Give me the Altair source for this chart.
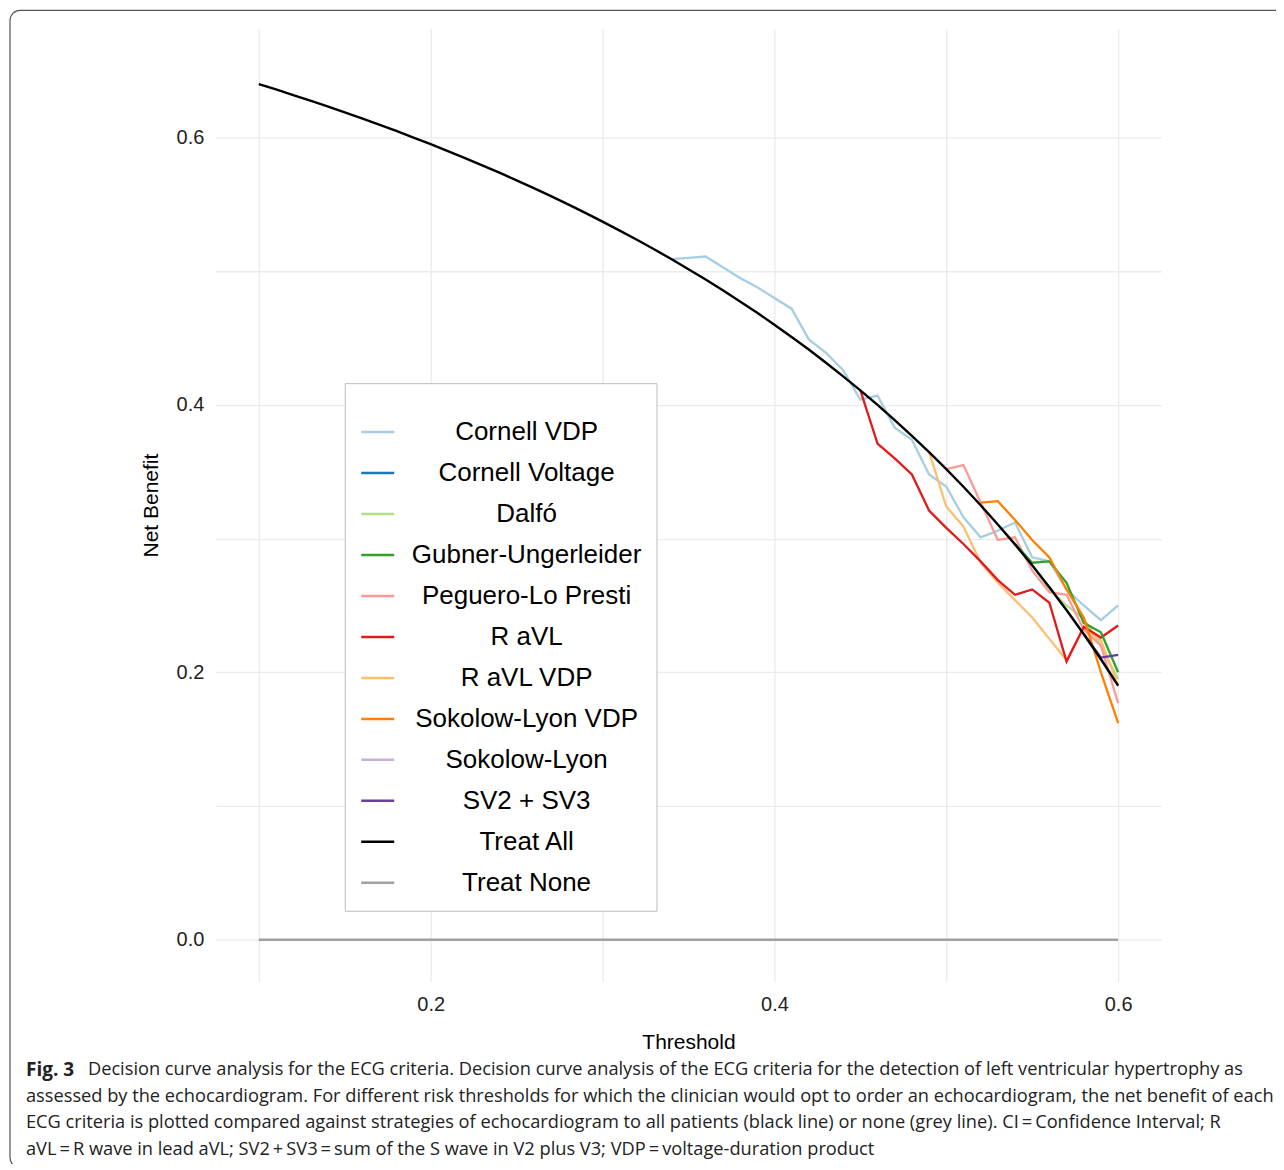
import altair as alt
import pandas as pd

# ---------------- data ----------------
thresholds = [round(0.10 + 0.01 * i, 2) for i in range(51)]

treat_all = [0.6400, 0.6360, 0.6318, 0.6276, 0.6233, 0.6188, 0.6143, 0.6096, 0.6049, 0.6000,
             0.5950, 0.5899, 0.5846, 0.5792, 0.5737, 0.5680, 0.5622, 0.5562, 0.5500, 0.5437,
             0.5371, 0.5304, 0.5235, 0.5164, 0.5091, 0.5015, 0.4938, 0.4857, 0.4774, 0.4689,
             0.4600, 0.4508, 0.4414, 0.4316, 0.4214, 0.4109, 0.4000, 0.3887, 0.3769, 0.3647,
             0.3520, 0.3388, 0.3250, 0.3106, 0.2957, 0.2800, 0.2636, 0.2465, 0.2286, 0.2098,
             0.1900]
treat_none = [0.0] * 51

# model curves: (first threshold, values at 0.01 steps)
cornell_vdp_start = 0.34
cornell_vdp = [0.509, 0.510, 0.511, 0.503, 0.495, 0.488, 0.480, 0.472, 0.449, 0.439,
               0.426, 0.404, 0.407, 0.383, 0.374, 0.348, 0.339, 0.316, 0.301, 0.306,
               0.312, 0.286, 0.283, 0.262, 0.250, 0.239, 0.250]
cornell_voltage_start = 0.56
cornell_voltage = [0.2636, 0.2465, 0.2286, 0.2098, 0.1900]
dalfo_start = 0.54
dalfo = [0.296, 0.280, 0.262, 0.250, 0.240, 0.220, 0.195]
gubner_start = 0.54
gubner = [0.296, 0.282, 0.283, 0.267, 0.237, 0.230, 0.200]
peguero_start = 0.50
peguero = [0.352, 0.355, 0.327, 0.299, 0.301, 0.276, 0.260, 0.258, 0.232, 0.220, 0.177]
r_avl_start = 0.45
r_avl = [0.411, 0.371, 0.360, 0.348, 0.321, 0.308, 0.296, 0.283, 0.269, 0.258,
         0.262, 0.252, 0.208, 0.234, 0.226, 0.235]
r_avl_vdp_start = 0.49
r_avl_vdp = [0.365, 0.324, 0.309, 0.282, 0.267, 0.254, 0.241, 0.225, 0.209, 0.233,
             0.224, 0.190]
sokolow_vdp_start = 0.52
sokolow_vdp = [0.327, 0.328, 0.314, 0.299, 0.286, 0.262, 0.241, 0.200, 0.162]
sokolow_start = 0.57
sokolow = [0.2465, 0.2286, 0.2098, 0.1900]
sv2sv3_start = 0.58
sv2sv3 = [0.229, 0.211, 0.213]

series_names = ["Cornell VDP", "Cornell Voltage", "Dalfó", "Gubner-Ungerleider",
                "Peguero-Lo Presti", "R aVL", "R aVL VDP", "Sokolow-Lyon VDP",
                "Sokolow-Lyon", "SV2 + SV3", "Treat All", "Treat None"]
series_colors = ["#a6cee3", "#1f78b4", "#b2df8a", "#33a02c", "#fb9a99", "#e31a1c",
                 "#fdbf6f", "#ff7f00", "#cab2d6", "#6a3d9a", "#000000", "#a0a0a0"]

caption_bold = "Fig. 3"
caption_lines = [
    "Decision curve analysis for the ECG criteria. Decision curve analysis of the ECG criteria for the detection of left ventricular hypertrophy as",
    "assessed by the echocardiogram. For different risk thresholds for which the clinician would opt to order an echocardiogram, the net benefit of each",
    "ECG criteria is plotted compared against strategies of echocardiogram to all patients (black line) or none (grey line). CI\u2009=\u2009Confidence Interval; R",
    "aVL\u2009=\u2009R wave in lead aVL; SV2\u2009+\u2009SV3\u2009=\u2009sum of the S wave in V2 plus V3; VDP\u2009=\u2009voltage-duration product",
]

# ---------------- build tables ----------------
def model_rows(name, start, vals):
    i0 = thresholds.index(start)
    return [{"threshold": thresholds[i0 + k], "nb": v, "model": name} for k, v in enumerate(vals)]

model_specs = [
    ("Cornell Voltage", cornell_voltage_start, cornell_voltage),
    ("Sokolow-Lyon", sokolow_start, sokolow),
    ("Dalfó", dalfo_start, dalfo),
    ("Cornell VDP", cornell_vdp_start, cornell_vdp),
    ("R aVL VDP", r_avl_vdp_start, r_avl_vdp),
    ("Peguero-Lo Presti", peguero_start, peguero),
    ("R aVL", r_avl_start, r_avl),
    ("Gubner-Ungerleider", gubner_start, gubner),
    ("Sokolow-Lyon VDP", sokolow_vdp_start, sokolow_vdp),
    ("SV2 + SV3", sv2sv3_start, sv2sv3),
]
rows = []
for n, s, v in model_specs:
    rows.extend(model_rows(n, s, v))
models_df = pd.DataFrame(rows)

ref_df = pd.DataFrame(
    [{"threshold": t, "nb": v, "model": "Treat None"} for t, v in zip(thresholds, treat_none)]
    + [{"threshold": t, "nb": v, "model": "Treat All"} for t, v in zip(thresholds, treat_all)]
)

W, H = 946, 954
AX_FONT = "Liberation Sans"

x_enc = alt.X("threshold:Q", title="Threshold",
              scale=alt.Scale(domain=[0.075, 0.625], nice=False, zero=False),
              axis=alt.Axis(values=[0.1, 0.2, 0.3, 0.4, 0.5, 0.6],
                            labelExpr="round(datum.value*10) % 2 == 0 ? format(datum.value, '.1f') : ''"))
y_enc = alt.Y("nb:Q", title="Net Benefit",
              scale=alt.Scale(domain=[-0.0314, 0.6816], nice=False, zero=False),
              axis=alt.Axis(values=[0.0, 0.1, 0.2, 0.3, 0.4, 0.5, 0.6],
                            labelExpr="round(datum.value*10) % 2 == 0 ? format(datum.value, '.1f') : ''"))
color_enc = alt.Color("model:N", scale=alt.Scale(domain=series_names, range=series_colors),
                      legend=alt.Legend(title=" ", orient="none", legendX=129, legendY=355,
                                        symbolType="stroke", symbolSize=1089,
                                        symbolStrokeWidth=2.5, labelAlign="center",
                                        labelOffset=131, labelFontSize=26, labelFont=AX_FONT,
                                        labelColor="#000000", titleFontSize=8, titlePadding=8,
                                        rowPadding=10, padding=15, strokeColor="#bdbdbd",
                                        fillColor="#ffffff", labelLimit=400))

models = alt.Chart(models_df).mark_line(strokeWidth=2.3).encode(
    x=x_enc, y=y_enc, color=color_enc, detail="model:N", order="threshold:Q")

refs = alt.Chart(ref_df).mark_line(strokeWidth=2.4).encode(
    x="threshold:Q", y="nb:Q", color=alt.Color("model:N"), order="threshold:Q")

# caption texts (positions relative to plot origin)
cap_layers = [
    alt.Chart(pd.DataFrame({"t": [caption_bold]})).mark_text(
        align="left", baseline="middle", fontSize=19, fontWeight="bold",
        font="Open Sans", color="#222222").encode(
        text="t:N", x=alt.value(-190), y=alt.value(1042))
]
cap_x = [-128, -190, -190, -190]
cap_y = [1042, 1069, 1095, 1122]
for line, cx, cy in zip(caption_lines, cap_x, cap_y):
    cap_layers.append(
        alt.Chart(pd.DataFrame({"t": [line]})).mark_text(
            align="left", baseline="middle", fontSize=18.25, font="Open Sans",
            color="#222222").encode(text="t:N", x=alt.value(cx), y=alt.value(cy)))

frame = alt.Chart(pd.DataFrame({"a": [0]})).mark_rect(
    fill=None, stroke="#555555", strokeWidth=1.2, cornerRadius=10).encode(
    x=alt.value(-206), x2=alt.value(1200), y=alt.value(-18), y2=alt.value(1140))

chart = alt.layer(frame, models, refs, *cap_layers).properties(
    width=W, height=H,
    autosize=alt.AutoSizeParams(type="none"),
    padding={"left": 208, "top": 20, "right": 115, "bottom": 182},
).configure_view(stroke=None).configure_axis(
    grid=True, gridColor="#ebebeb", gridWidth=1.3, domain=False, ticks=False,
    labelFont=AX_FONT, labelFontSize=20, labelColor="#222222",
    titleFont=AX_FONT, titleFontSize=21, titleColor="#000000", titleFontWeight="normal",
).configure_axisX(labelPadding=13, titlePadding=17).configure_axisY(
    labelPadding=12, titlePadding=15)

chart.save("out.html", embed_options={"renderer": "svg", "actions": False})
